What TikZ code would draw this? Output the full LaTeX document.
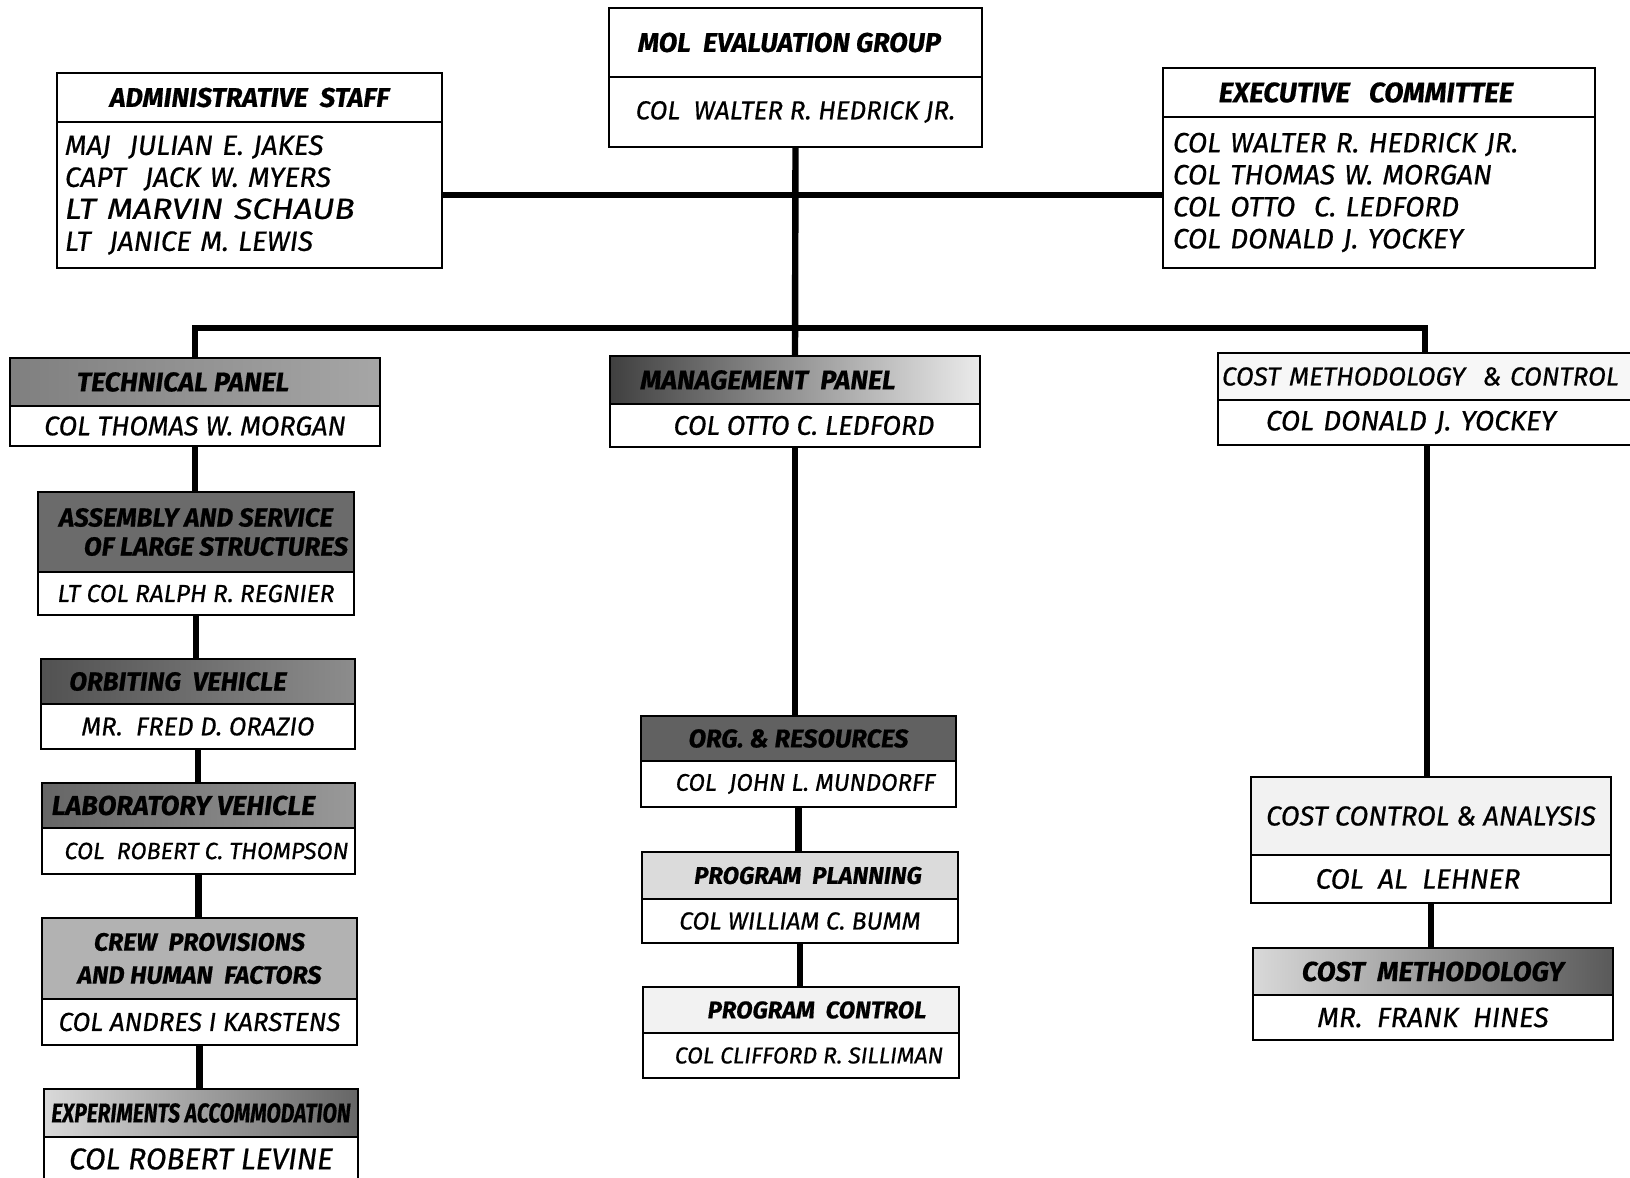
\documentclass[tikz,border=0pt]{standalone}
\usepackage{fontspec}
\setmainfont{Fira Sans}[ItalicFeatures={FakeBold=0.6},BoldItalicFeatures={FakeBold=0.6}]
\usepackage{graphicx}
\tikzset{
  fsz/.store in=\fsz, fsz=13.5,
  bls/.store in=\bls, bls=16,
  bx/.style={draw, line width=1pt, anchor=north west, inner sep=0pt, outer sep=0pt, align=center},
  ttl/.style={bx, font=\fontsize{\fsz}{\bls}\selectfont\bfseries\itshape},
  nam/.style={bx, fill=white, font=\fontsize{\fsz}{\bls}\selectfont\itshape},
  conn/.style={line width=3.2pt}
}
\newcommand\band[7]{\node[#6,minimum width={(#4-#2)*0.5pt},minimum height={(#5-#3)*0.5pt}] (#1) at (#2,#3) {#7};}
\begin{document}
\begin{tikzpicture}[x=0.5pt,y=-0.5pt]
\clip (0,0) rectangle (1630,1178);
\fill[white] (0,0) rectangle (1630,1178);

% top level
\band{molT}{609}{8}{982}{77}{ttl,fill=white,fsz=13.5}{MOL\ \ EVALUATION GROUP\hspace*{6pt}}
\band{molN}{609}{77}{982}{147}{nam,fsz=13}{COL\ \ WALTER R. HEDRICK JR.}
\band{adminT}{57}{73}{442}{122}{ttl,fill=white,fsz=13.5}{ADMINISTRATIVE\ \ STAFF}
\band{adminN}{57}{122}{442}{268}{nam,fsz=14,align=left,text width=184.5pt}{MAJ\ \ JULIAN\ E. JAKES\\CAPT\ \ JACK W. MYERS\\\scalebox{1.2}[1.04]{LT MARVIN SCHAUB}\\LT\ \ JANICE M. LEWIS}
\band{execT}{1163}{68}{1595}{117}{ttl,fill=white,fsz=14}{EXECUTIVE\ \ \ COMMITTEE\hspace*{13pt}}
\band{execN}{1163}{117}{1595}{268}{nam,fsz=14,align=left,text width=206pt}{COL WALTER R. HEDRICK JR.\\COL THOMAS W. MORGAN\\COL OTTO\ \ C. LEDFORD\\COL DONALD J. YOCKEY}

% panels
\band{techT}{10}{358}{380}{406}{ttl,fsz=13.5,left color=black!50,right color=black!35}{TECHNICAL PANEL\hspace*{12pt}}
\band{techN}{10}{406}{380}{446}{nam,fsz=13.5}{COL THOMAS W. MORGAN}
\band{mgmtT}{610}{356}{980}{404}{ttl,fsz=13.5,left color=black!75,right color=black!8}{MANAGEMENT\ \ PANEL\hspace*{27pt}}
\band{mgmtN}{610}{404}{980}{447}{nam,fsz=13.5}{\hspace*{9pt}COL OTTO C. LEDFORD}
\band{cmcT}{1218}{353}{1700}{400}{nam,fsz=13,fill=black!3,align=left,text width=237pt}{COST METHODOLOGY\ \ \& CONTROL}
\band{cmcN}{1218}{400}{1700}{445}{nam,fsz=14,align=left,text width=237pt}{\hspace*{22pt}COL DONALD J. YOCKEY}

% technical chain
\band{asmT}{38}{492}{354}{572}{ttl,fsz=13,bls=14.5,fill=black!58}{ASSEMBLY AND SERVICE\\\hspace*{20pt}OF LARGE STRUCTURES}
\band{asmN}{38}{572}{354}{615}{nam,fsz=12.3}{LT COL RALPH R. REGNIER}
\band{orbT}{41}{659}{355}{704}{ttl,fsz=13,left color=black!68,right color=black!45}{ORBITING\ \ VEHICLE\hspace*{20pt}}
\band{orbN}{41}{704}{355}{749}{nam,fsz=12.8}{MR.\ \ FRED D. ORAZIO}
\band{labT}{42}{783}{355}{828}{ttl,fsz=13.6,left color=black!60,right color=black!40}{LABORATORY VEHICLE\hspace*{15pt}}
\band{labN}{42}{828}{355}{874}{nam,fsz=11.7}{\hspace*{8pt}COL\ \ ROBERT C. THOMPSON}
\band{crewT}{42}{918}{357}{999}{ttl,fsz=12.5,bls=16.5,fill=black!30}{CREW\ \ PROVISIONS\\AND HUMAN\ \ FACTORS}
\band{crewN}{42}{999}{357}{1045}{nam,fsz=13}{COL ANDRES I KARSTENS}
\band{expT}{44}{1089}{358}{1137}{ttl,fsz=13.5,left color=black!15,right color=black!60}{\scalebox{0.78}[1]{EXPERIMENTS ACCOMMODATION}}
\band{expN}{44}{1137}{358}{1181}{nam,fsz=15}{COL ROBERT LEVINE}

% management chain
\band{orgT}{641}{716}{956}{761}{ttl,fsz=12.8,fill=black!62}{ORG. \& RESOURCES}
\band{orgN}{641}{761}{956}{807}{nam,fsz=12}{\hspace*{7pt}COL\ \ JOHN L. MUNDORFF}
\band{ppT}{642}{852}{958}{899}{ttl,fsz=12,fill=black!14}{\hspace*{8pt}PROGRAM\ \ PLANNING}
\band{ppN}{642}{899}{958}{943}{nam,fsz=12.3}{COL WILLIAM C. BUMM}
\band{pcT}{643}{987}{959}{1033}{ttl,fsz=12,fill=black!5}{\hspace*{16pt}PROGRAM\ \ CONTROL}
\band{pcN}{643}{1033}{959}{1078}{nam,fsz=11.5}{\hspace*{8pt}COL CLIFFORD R. SILLIMAN}

% cost chain
\band{ccaT}{1251}{777}{1611}{855}{nam,fsz=13.7,fill=black!5}{COST CONTROL \& ANALYSIS}
\band{ccaN}{1251}{855}{1611}{903}{nam,fsz=14}{COL\ \ AL\ \ LEHNER\hspace*{13pt}}
\band{cmT}{1253}{948}{1613}{995}{ttl,fsz=13.7,left color=black!15,right color=black!65}{COST\ \ METHODOLOGY}
\band{cmN}{1253}{995}{1613}{1040}{nam,fsz=14}{MR.\ \ FRANK\ \ HINES}

% connectors
\coordinate (bus) at (795,328);
\coordinate (cmcTop) at (1425,353);
\coordinate (cmcBot) at (1427,445);
\draw[conn] (adminN.east) -- (adminN.east -| execN.west);
\draw[conn] (molN.south) -- (mgmtT.north);
\draw[conn] (techT.north) |- (bus) -| (cmcTop);
\draw[conn] (techN.south) -- (techN.south |- asmT.north);
\draw[conn] (asmN.south) -- (asmN.south |- orbT.north);
\draw[conn] (orbN.south) -- (orbN.south |- labT.north);
\draw[conn] (labN.south) -- (labN.south |- crewT.north);
\draw[conn] (crewN.south) -- (crewN.south |- expT.north);
\draw[conn] (mgmtN.south) -- (mgmtN.south |- orgT.north);
\draw[conn] (orgN.south) -- (orgN.south |- ppT.north);
\draw[conn] (ppN.south) -- (ppN.south |- pcT.north);
\draw[conn] (cmcBot) -- (cmcBot |- ccaT.north);
\draw[conn] (ccaN.south) -- (ccaN.south |- cmT.north);
\end{tikzpicture}
\end{document}
